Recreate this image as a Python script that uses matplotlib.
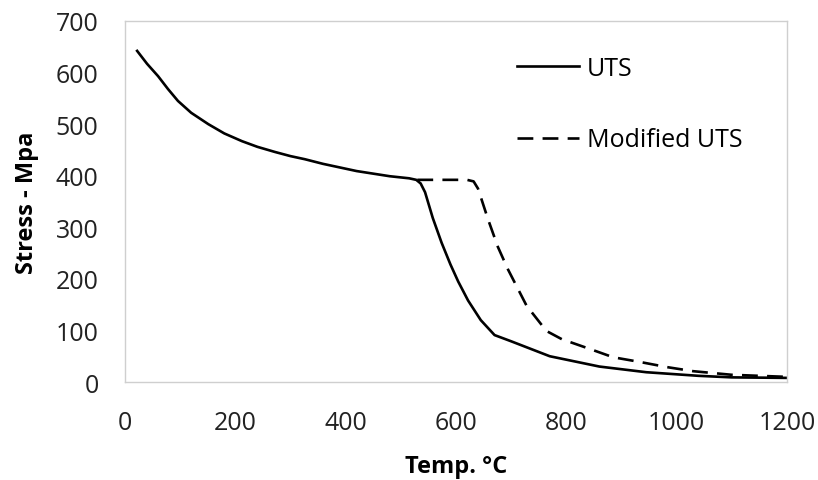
import matplotlib
matplotlib.use("Agg")
import matplotlib.pyplot as plt

# UTS curve (temperature in C, stress in MPa)
uts_temp = [22, 40, 60, 78, 96, 120, 151, 180, 212, 240, 272, 300, 326, 359,
            420, 480, 515, 528, 536, 544, 558, 574, 590, 604, 622, 645, 670,
            700, 770, 860, 945, 1040, 1100, 1200]
uts_stress = [642, 617, 593, 568, 545, 522, 500, 482, 467, 456, 446, 438,
              432, 423, 409, 399, 395, 392, 385, 368, 318, 270, 228, 195,
              158, 120, 91, 79, 50, 30, 19, 12, 9, 8]

# modified UTS curve
mod_temp = [530, 620, 632, 640, 658, 676, 694, 728, 764, 792, 843, 885, 933,
            982, 1030, 1100, 1200]
mod_stress = [392, 392, 389, 375, 316, 262, 219, 148, 99, 83, 64, 48, 39,
              29, 21, 14, 10]

x_ticks = [0, 200, 400, 600, 800, 1000, 1200]
y_ticks = [0, 100, 200, 300, 400, 500, 600, 700]

plt.rcParams["font.family"] = ["Open Sans", "DejaVu Sans"]

fig = plt.figure(figsize=(8.18, 4.81), dpi=100)
ax = fig.add_axes([0.1528, 0.2037, 0.8092, 0.7506])

ax.plot(uts_temp, uts_stress, color="black", linewidth=1.9, label="UTS")
ax.plot(mod_temp, mod_stress, color="black", linewidth=1.9,
        dashes=(6, 3.5), label="Modified UTS")

ax.set_xlim(0, 1200)
ax.set_ylim(0, 700)
ax.set_xticks(x_ticks)
ax.set_yticks(y_ticks)
ax.tick_params(axis="y", length=0, labelsize=18, colors="#222222", pad=19)
ax.tick_params(axis="x", length=0, labelsize=18, colors="#222222", pad=20)

for spine in ax.spines.values():
    spine.set_color("#cfcfcf")
    spine.set_linewidth(1.0)

ax.set_xlabel("Temp. °C", fontsize=17, fontweight="bold", labelpad=14)
ax.set_ylabel("Stress - Mpa", fontsize=17, fontweight="bold", labelpad=12)

ax.legend(loc="upper left", bbox_to_anchor=(0.592, 0.903), frameon=False,
          fontsize=18, handlelength=2.5, handletextpad=0.3,
          labelspacing=1.85, borderpad=0, borderaxespad=0)

fig.savefig("out.png", dpi=100)
